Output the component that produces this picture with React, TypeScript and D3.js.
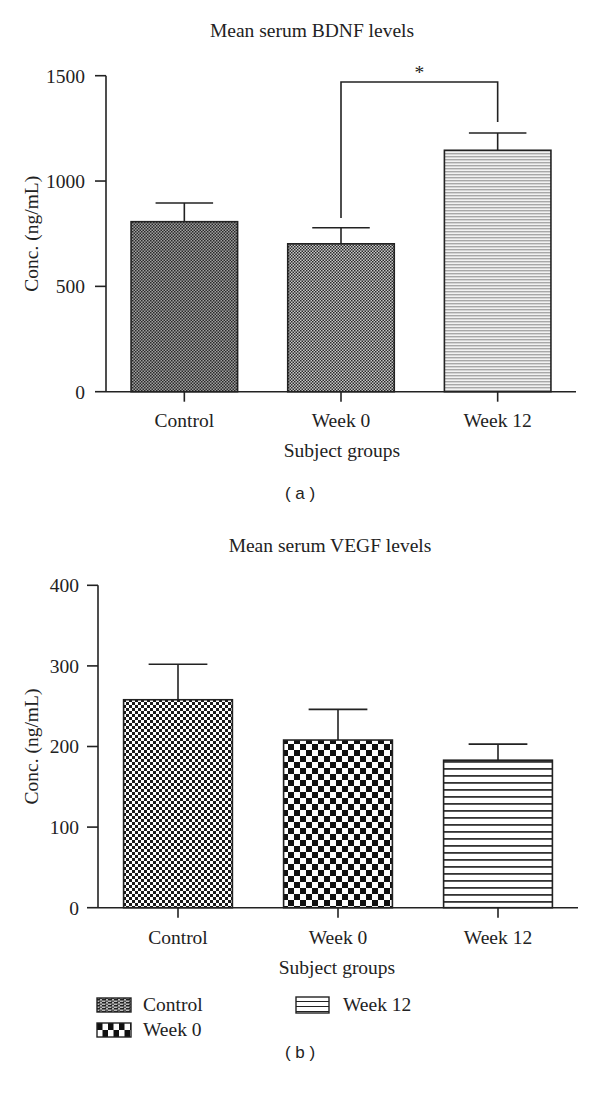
import React from "react";
import * as d3 from "d3";

const categories = ["Control", "Week 0", "Week 12"];
const bdnfMeans = [807, 702, 1146];
const bdnfErrors = [89, 76, 82];
const bdnfTicks = [0, 500, 1000, 1500];
const vegfMeans = [258, 208, 183];
const vegfErrors = [44, 38, 20];
const vegfTicks = [0, 100, 200, 300, 400];
const bracketPair = ["Week 0", "Week 12"];
const bracketLevels = [825, 1470, 1280]; // left leg end, top, right leg end
const legendItems = ["Control", "Week 0", "Week 12"];

const FONT = "'Liberation Serif', 'Times New Roman', serif";
const FS = 19.5;
const INK = "#222";

function Patterns() {
  return (
    <defs>
      <pattern id="pACtrl" width="3" height="3" patternUnits="userSpaceOnUse">
        <rect width="3" height="3" fill="#a0a0a0" />
        <rect x="0" y="0" width="1.5" height="1.5" fill="#2a2a2a" />
        <rect x="1.5" y="1.5" width="1.5" height="1.5" fill="#2a2a2a" />
      </pattern>
      <pattern id="pAW0" width="3" height="3" patternUnits="userSpaceOnUse">
        <rect width="3" height="3" fill="#c8c8c8" />
        <rect x="0" y="0" width="1.5" height="1.5" fill="#2a2a2a" />
        <rect x="1.5" y="1.5" width="1.5" height="1.5" fill="#2a2a2a" />
      </pattern>
      <pattern id="pAW12" width="4" height="3" patternUnits="userSpaceOnUse">
        <rect width="4" height="3" fill="#f2f2f2" />
        <rect x="0" y="0" width="4" height="1.4" fill="#a8a8a8" />
      </pattern>
      <pattern id="pBCtrl" width="6" height="6" patternUnits="userSpaceOnUse">
        <rect width="6" height="6" fill="#fff" />
        <rect x="0" y="0" width="3" height="3" fill="#1a1a1a" />
        <rect x="3" y="3" width="3" height="3" fill="#1a1a1a" />
      </pattern>
      <pattern id="pBW0" width="12" height="12" patternUnits="userSpaceOnUse">
        <rect width="12" height="12" fill="#fff" />
        <rect x="0" y="0" width="6" height="6" fill="#111" />
        <rect x="6" y="6" width="6" height="6" fill="#111" />
      </pattern>
      <pattern id="pBW12" width="7" height="7" patternUnits="userSpaceOnUse">
        <rect width="7" height="7" fill="#fff" />
        <rect x="0" y="5" width="7" height="1.8" fill="#333" />
      </pattern>
      <pattern id="pLCtrl" width="6" height="3" patternUnits="userSpaceOnUse">
        <rect width="6" height="3" fill="#bbb" />
        <rect x="0" y="0" width="4" height="1.5" fill="#222" />
        <rect x="3" y="1.5" width="3" height="1.5" fill="#555" />
      </pattern>
      <pattern id="pLW0" width="11" height="14" patternUnits="userSpaceOnUse" x="97" y="1023">
        <rect width="11" height="14" fill="#fff" />
        <rect x="0" y="0" width="5.5" height="7" fill="#111" />
        <rect x="5.5" y="7" width="5.5" height="7" fill="#111" />
      </pattern>
      <pattern id="pLW12" width="4" height="5" patternUnits="userSpaceOnUse" y="997">
        <rect width="4" height="5" fill="#fff" />
        <rect x="0" y="4" width="4" height="1.2" fill="#222" />
      </pattern>
    </defs>
  );
}

type PanelProps = {
  means: number[];
  errors: number[];
  ticks: number[];
  yMax: number;
  xRange: [number, number];
  yRange: [number, number];
  fills: string[];
  title: string;
  titleX: number;
  titleY: number;
  labelY: number;
  groupX: number;
  groupY: number;
  yLabelX: number;
  tickGap: number;
  panelTag: string;
  tagY: number;
  bracket?: boolean;
};

function Panel(p: PanelProps) {
  const x = d3.scaleBand<string>().domain(categories).range(p.xRange).paddingInner(0.32).paddingOuter(0.16);
  const y = d3.scaleLinear().domain([0, p.yMax]).range(p.yRange);
  const x0 = p.xRange[0];
  const yMid = (p.yRange[0] + p.yRange[1]) / 2;
  const bw = x.bandwidth();
  const capW = bw * 0.54;
  const center = (c: string) => (x(c) as number) + bw / 2;
  return (
    <g>
      <text x={p.titleX} y={p.titleY} textAnchor="middle" fontFamily={FONT} fontSize={FS} fill={INK}>{p.title}</text>
      {categories.map((c, i) => {
        const cx = center(c);
        const top = y(p.means[i] + p.errors[i]);
        return (
          <g key={"e" + c} stroke={INK} strokeWidth={1.6}>
            <line x1={cx} x2={cx} y1={y(p.means[i])} y2={top} />
            <line x1={cx - capW / 2} x2={cx + capW / 2} y1={top} y2={top} />
          </g>
        );
      })}
      {categories.map((c, i) => (
        <rect key={"b" + c} x={x(c)} y={y(p.means[i])} width={bw} height={y(0) - y(p.means[i])}
          fill={p.fills[i]} stroke={INK} strokeWidth={1.6} />
      ))}
      <line x1={x0} x2={x0} y1={y(0)} y2={y(p.yMax)} stroke={INK} strokeWidth={1.6} />
      {p.ticks.map((t) => (
        <g key={"t" + t}>
          <line x1={x0 - 11} x2={x0} y1={y(t)} y2={y(t)} stroke={INK} strokeWidth={1.6} />
          <text x={x0 - p.tickGap} y={y(t)} dy="0.35em" textAnchor="end" fontFamily={FONT} fontSize={FS} fill={INK}>{t}</text>
        </g>
      ))}
      <text transform={`translate(${p.yLabelX},${yMid}) rotate(-90)`} textAnchor="middle" fontFamily={FONT} fontSize={FS} fill={INK}>Conc. (ng/mL)</text>
      <line x1={x0} x2={p.xRange[1]} y1={y(0)} y2={y(0)} stroke={INK} strokeWidth={1.6} />
      {categories.map((c) => (
        <g key={"x" + c}>
          <line x1={center(c)} x2={center(c)} y1={y(0)} y2={y(0) + 10} stroke={INK} strokeWidth={1.6} />
          <text x={center(c)} y={p.labelY} textAnchor="middle" fontFamily={FONT} fontSize={FS} fill={INK}>{c}</text>
        </g>
      ))}
      <text x={p.groupX} y={p.groupY} textAnchor="middle" fontFamily={FONT} fontSize={FS} fill={INK}>Subject groups</text>
      {p.bracket && (
        <path stroke={INK} strokeWidth={1.6} fill="none"
          d={`M${center(bracketPair[0])},${y(bracketLevels[0])}V${y(bracketLevels[1])}H${center(bracketPair[1])}V${y(bracketLevels[2])}`} />
      )}
      {p.bracket && (
        <text x={(center(bracketPair[0]) + center(bracketPair[1])) / 2} y={y(bracketLevels[1]) - 3} textAnchor="middle" fontFamily={FONT} fontSize={FS} fill={INK}>*</text>
      )}
      <text x={300} y={p.tagY} textAnchor="middle" fontFamily="'Liberation Sans', Arial, sans-serif" fontSize={17} fill={INK}>( {p.panelTag} )</text>
    </g>
  );
}

export default function App() {
  const legendPos = [
    { x: 97, y: 998, w: 34, h: 14, tx: 143, ty: 1011, fill: "url(#pLCtrl)" },
    { x: 97, y: 1023, w: 34, h: 14, tx: 143, ty: 1036, fill: "url(#pLW0)" },
    { x: 296, y: 997, w: 33, h: 16, tx: 343, ty: 1011, fill: "url(#pLW12)" },
  ];
  return (
    <svg width={600} height={1094} style={{ position: "absolute", left: 0, top: 0, background: "#fff" }}>
      <Patterns />
      <rect width={600} height={1094} fill="#fff" />
      <Panel means={bdnfMeans} errors={bdnfErrors} ticks={bdnfTicks} yMax={1500}
        xRange={[106, 576]} yRange={[391.7, 75.7]}
        fills={["url(#pACtrl)", "url(#pAW0)", "url(#pAW12)"]}
        title="Mean serum BDNF levels" titleX={312} titleY={37} labelY={427}
        groupX={342} groupY={457} yLabelX={38} tickGap={21} panelTag="a" tagY={499} bracket />
      <Panel means={vegfMeans} errors={vegfErrors} ticks={vegfTicks} yMax={400}
        xRange={[98, 578]} yRange={[907.7, 585.3]}
        fills={["url(#pBCtrl)", "url(#pBW0)", "url(#pBW12)"]}
        title="Mean serum VEGF levels" titleX={330} titleY={552} labelY={944}
        groupX={337} groupY={974} yLabelX={38} tickGap={19} panelTag="b" tagY={1058} />
      {legendItems.map((name, i) => {
        const l = legendPos[i];
        return (
          <g key={name}>
            <rect x={l.x} y={l.y} width={l.w} height={l.h} fill={l.fill} stroke={INK} strokeWidth={1.4} />
            <text x={l.tx} y={l.ty} fontFamily={FONT} fontSize={FS} fill={INK}>{name}</text>
          </g>
        );
      })}
    </svg>
  );
}
